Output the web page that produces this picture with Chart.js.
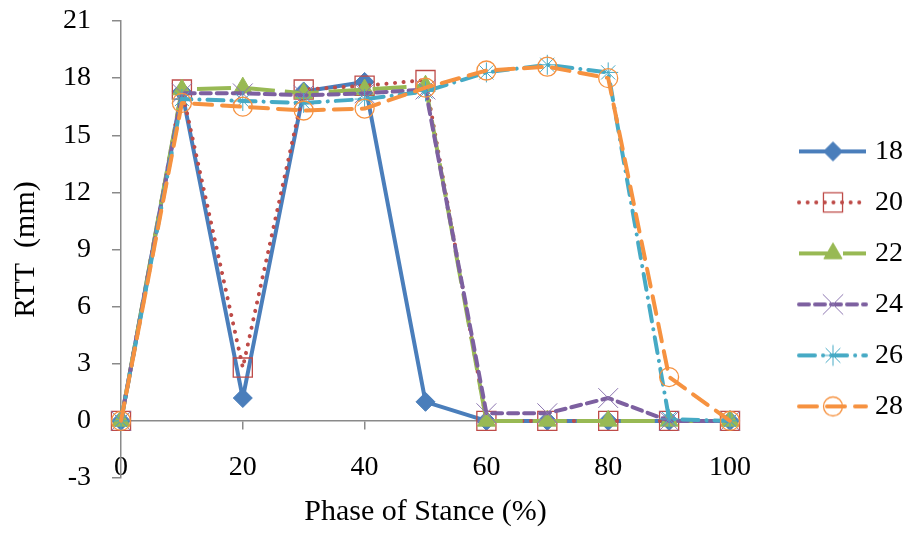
<!DOCTYPE html>
<html>
<head>
<meta charset="utf-8">
<script src="https://cdn.jsdelivr.net/npm/chart.js"></script>
<style>
  html, body { margin: 0; padding: 0; background: #fff; }
  #wrap { width: 913px; height: 533px; }
</style>
</head>
<body>
<div id="wrap"><canvas id="grafico" width="913" height="533"></canvas></div>
<script>
// valores
const fases = [0, 10, 20, 30, 40, 50, 60, 70, 80, 90, 100];
const nomesSeries = ['18', '20', '22', '24', '26', '28'];
const rtt18 = [0, 17.3, 1.2, 17.3, 17.8, 1.0, 0, 0, 0, 0, 0];
const rtt20 = [0, 17.4, 2.8, 17.4, 17.6, 17.9, 0, 0, 0, 0, 0];
const rtt22 = [0, 17.4, 17.5, 17.2, 17.4, 17.6, 0, 0, 0, 0, 0];
const rtt24 = [0, 17.2, 17.2, 17.1, 17.2, 17.4, 0.4, 0.4, 1.2, 0, 0];
const rtt26 = [0, 16.9, 16.8, 16.7, 16.9, 17.3, 18.3, 18.7, 18.3, 0.1, 0];
const rtt28 = [0, 16.7, 16.5, 16.3, 16.4, 17.5, 18.4, 18.6, 18.0, 2.3, 0];
const ticksX = [0, 20, 40, 60, 80, 100];
const ticksY = [-3, 0, 3, 6, 9, 12, 15, 18, 21];

const valores = [rtt18, rtt20, rtt22, rtt24, rtt26, rtt28];

// estilos de cada serie (estilo Excel)
const estilos = [
  { cor: '#4A7EBB', dash: [], cap: 'butt', ponto: 'rectRot', raio: 9.5, fundo: '#4A7EBB', borda: '#4A7EBB', bw: 1 },
  { cor: '#BE4B48', dash: [0.1, 8.5], cap: 'round', ponto: 'rect', raio: 13.5, fundo: 'rgba(0,0,0,0)', borda: '#BE4B48', bw: 1.3 },
  { cor: '#98B954', dash: [34, 10], cap: 'butt', ponto: 'triangle', raio: 10.5, fundo: '#98B954', borda: '#98B954', bw: 1 },
  { cor: '#7D60A0', dash: [10, 6], cap: 'round', ponto: 'crossRot', raio: 14, fundo: 'rgba(0,0,0,0)', borda: '#8C75B0', bw: 1 },
  { cor: '#46AAC5', dash: [16, 8, 0.1, 8], cap: 'round', ponto: 'star', raio: 10, fundo: 'rgba(0,0,0,0)', borda: '#46AAC5', bw: 1 },
  { cor: '#F69240', dash: [18, 10], cap: 'round', ponto: 'circle', raio: 9.5, fundo: 'rgba(0,0,0,0)', borda: '#F69240', bw: 1.3 }
];

Chart.defaults.font.family = "'Liberation Serif', 'Times New Roman', serif";
Chart.defaults.color = '#000';

const corEixo = '#8a8a8a';

const datasets = nomesSeries.map((nome, i) => {
  const e = estilos[i];
  return {
    label: nome,
    data: fases.map((f, k) => ({ x: f, y: valores[i][k] })),
    borderColor: e.cor,
    borderWidth: 4,
    borderDash: e.dash,
    borderCapStyle: e.cap,
    borderJoinStyle: 'round',
    pointStyle: e.ponto,
    pointRadius: e.raio,
    pointBackgroundColor: e.fundo,
    pointBorderColor: e.borda,
    pointBorderWidth: e.bw,
    tension: 0,
    clip: false,
    order: nomesSeries.length - i
  };
});

// imagem da legenda: linha + marcador
function imagemLegenda(ds) {
  const c = document.createElement('canvas');
  c.width = 86; c.height = 32;
  const g = c.getContext('2d');
  g.strokeStyle = ds.borderColor;
  g.lineWidth = ds.borderWidth;
  g.lineCap = ds.borderCapStyle;
  g.setLineDash(ds.borderDash);
  g.beginPath(); g.moveTo(17, 16); g.lineTo(84, 16); g.stroke();
  g.setLineDash([]);
  g.fillStyle = ds.pointBackgroundColor;
  g.strokeStyle = ds.pointBorderColor;
  g.lineWidth = ds.pointBorderWidth;
  Chart.helpers.drawPoint(g, { pointStyle: ds.pointStyle, radius: ds.pointRadius, rotation: 0, borderWidth: ds.pointBorderWidth }, 51, 16);
  return c;
}

new Chart(document.getElementById('grafico'), {
  type: 'line',
  data: { datasets: datasets },
  options: {
    responsive: false,
    animation: false,
    devicePixelRatio: 1,
    layout: { padding: { top: 0, right: 0, bottom: 0, left: 0 } },
    plugins: {
      tooltip: { enabled: false },
      legend: {
        position: 'right',
        align: 'start',
        title: { display: true, text: ' ', font: { size: 12 }, padding: { top: 100, bottom: 0 } },
        labels: {
          usePointStyle: true,
          pointStyleWidth: 72,
          boxHeight: 28,
          padding: 23,
          font: { size: 28 },
          generateLabels: (chart) => chart.data.datasets.map((ds, i) => ({
            text: ds.label,
            pointStyle: imagemLegenda(ds),
            datasetIndex: i,
            lineWidth: 0,
            hidden: false
          }))
        }
      }
    },
    scales: {
      x: {
        type: 'linear',
        position: { y: 0 },
        min: 0,
        max: 100,
        afterBuildTicks: (s) => { s.ticks = ticksX.map(v => ({ value: v })); },
        grid: { display: true, drawOnChartArea: false, drawTicks: true, tickLength: 8, color: corEixo, lineWidth: 1.5 },
        border: { display: true, color: corEixo, width: 1.5 },
        ticks: { font: { size: 28 }, padding: 22, maxRotation: 0 }
      },
      xTitulo: {
        type: 'linear',
        position: 'bottom',
        min: 0,
        max: 100,
        grid: { display: false },
        border: { display: false },
        ticks: { display: false },
        title: { display: true, text: 'Phase of Stance (%)', font: { size: 30 }, padding: { top: 0, bottom: 3 } },
        afterFit: (s) => { s.height = 55; }
      },
      y: {
        type: 'linear',
        position: 'left',
        min: -3,
        max: 21,
        afterBuildTicks: (s) => { s.ticks = ticksY.map(v => ({ value: v })); },
        grid: { display: true, drawOnChartArea: false, drawTicks: true, tickLength: 9, color: corEixo, lineWidth: 1.5 },
        border: { display: true, color: corEixo, width: 1.5 },
        ticks: { font: { size: 28, lineHeight: 0 }, padding: 21 },
        title: { display: true, text: 'RTT  (mm)', font: { size: 30 }, padding: { top: 8, bottom: 19 } },
        afterFit: (s) => { s.width = 121; }
      },
      espaco: {
        type: 'linear',
        position: 'right',
        min: 0,
        max: 1,
        grid: { display: false },
        border: { display: false },
        ticks: { display: false },
        afterFit: (s) => { s.width = 36; }
      }
    }
  }
});
</script>
</body>
</html>
